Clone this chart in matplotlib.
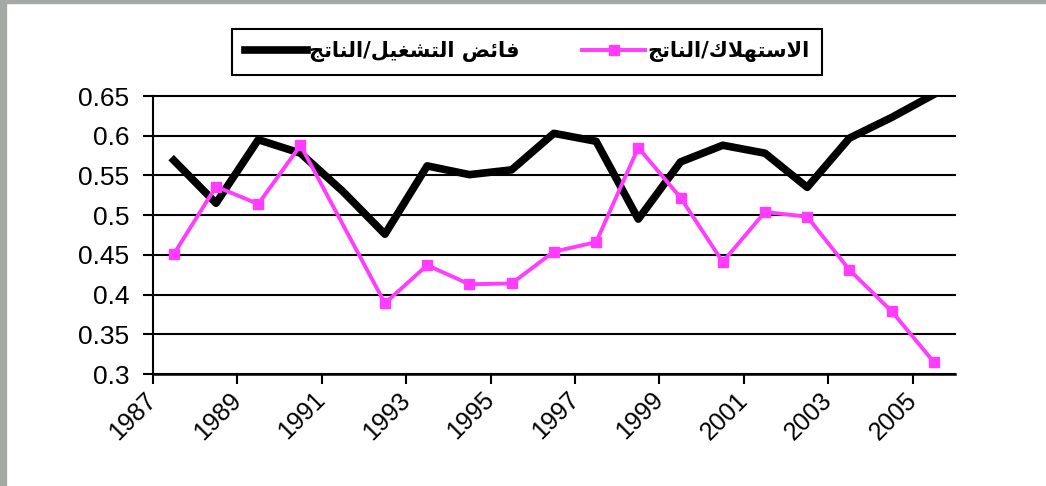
import matplotlib
import matplotlib.pyplot as plt
import numpy as np
from matplotlib.patches import Rectangle

matplotlib.use('Agg')

years = list(range(1987, 2006))
# فائض التشغيل/الناتج
surplus = [0.569, 0.515, 0.595, 0.578, 0.530, 0.476, 0.562, 0.551, 0.557, 0.603,
           0.593, 0.495, 0.567, 0.588, 0.578, 0.535, 0.597, 0.623, 0.652]
# الاستهلاك/الناتج (no marker for 1991)
consumption = [0.451, 0.536, 0.514, 0.588, np.nan, 0.389, 0.437, 0.413, 0.414, 0.454,
               0.466, 0.585, 0.522, 0.441, 0.504, 0.498, 0.431, 0.379, 0.315]
label_surplus = 'فائض التشغيل/الناتج'
label_consumption = 'الاستهلاك/الناتج'
tick_years = years[::2]
y_ticks = [0.3, 0.35, 0.4, 0.45, 0.5, 0.55, 0.6, 0.65]

# contextual forms: isolated, final, initial, medial
FORMS = {
    'ا': (0xFE8D, 0xFE8E, None, None),
    'ئ': (0xFE89, 0xFE8A, 0xFE8B, 0xFE8C),
    'ت': (0xFE95, 0xFE96, 0xFE97, 0xFE98),
    'ج': (0xFE9D, 0xFE9E, 0xFE9F, 0xFEA0),
    'س': (0xFEB1, 0xFEB2, 0xFEB3, 0xFEB4),
    'ش': (0xFEB5, 0xFEB6, 0xFEB7, 0xFEB8),
    'ض': (0xFEBD, 0xFEBE, 0xFEBF, 0xFEC0),
    'غ': (0xFECD, 0xFECE, 0xFECF, 0xFED0),
    'ف': (0xFED1, 0xFED2, 0xFED3, 0xFED4),
    'ك': (0xFED9, 0xFEDA, 0xFEDB, 0xFEDC),
    'ل': (0xFEDD, 0xFEDE, 0xFEDF, 0xFEE0),
    'ن': (0xFEE5, 0xFEE6, 0xFEE7, 0xFEE8),
    'ه': (0xFEE9, 0xFEEA, 0xFEEB, 0xFEEC),
    'ي': (0xFEF1, 0xFEF2, 0xFEF3, 0xFEF4),
    'لا': (0xFEFB, 0xFEFC, None, None),
}


def shape_arabic(text):
    units = []
    i = 0
    while i < len(text):
        if text[i:i + 2] == 'لا':
            units.append('لا')
            i += 2
        else:
            units.append(text[i])
            i += 1
    out = []
    for k, u in enumerate(units):
        if u not in FORMS:
            out.append(u)
            continue
        f = FORMS[u]
        prev = units[k - 1] if k > 0 else None
        nxt = units[k + 1] if k + 1 < len(units) else None
        join_prev = prev in FORMS and FORMS[prev][2] is not None
        join_next = f[2] is not None and nxt in FORMS
        if join_prev and join_next:
            c = f[3]
        elif join_prev:
            c = f[1]
        elif join_next:
            c = f[2]
        else:
            c = f[0]
        out.append(chr(c))
    return ''.join(reversed(out))


fig = plt.figure(figsize=(10.46, 4.86), dpi=100)
fig.patches.append(Rectangle((0, 0), 6 / 1046, 1, transform=fig.transFigure, color='#a5a9a5', zorder=0))
fig.patches.append(Rectangle((0, 1 - 3 / 486), 1, 3 / 486, transform=fig.transFigure, color='#a5a9a5', zorder=0))

ax = fig.add_axes([152.7 / 1046, 112 / 486, (955 - 152.7) / 1046, 278 / 486])

x = np.arange(len(years)) + 0.5
cons = np.array(consumption)
ok = ~np.isnan(cons)
ax.plot(x, surplus, color='black', lw=5.5, zorder=3,
        label=shape_arabic(label_surplus))
ax.plot(x[ok], cons[ok], color='#ff3cff', lw=2.8, marker='s', ms=7.5, zorder=4,
        label=shape_arabic(label_consumption))

ax.set_xlim(0, len(years))
ax.set_ylim(0.3, 0.65)
ax.set_yticks(y_ticks)
ax.set_yticklabels(['0.3', '0.35', '0.4', '0.45', '0.5', '0.55', '0.6', '0.65'])
ax.set_xticks(np.arange(0, len(years), 2))
ax.set_xticklabels([str(y) for y in tick_years], rotation=45, ha='right',
                   rotation_mode='anchor', va='center')

for v in y_ticks:
    ax.axhline(v, color='black', lw=1.5, zorder=1, clip_on=False)

for s in ['top', 'right']:
    ax.spines[s].set_visible(False)
ax.spines['left'].set_linewidth(1.5)
ax.spines['bottom'].set_linewidth(1.8)
ax.tick_params(axis='y', length=7, width=1.5, pad=10, labelsize=19)
ax.tick_params(axis='x', length=7, width=1.5, pad=9, labelsize=18)
for lab in ax.get_xticklabels() + ax.get_yticklabels():
    lab.set_family('Liberation Sans')

leg = fig.legend(loc='center', bbox_to_anchor=(527 / 1046, 1 - 52 / 486), ncol=2,
                 fancybox=False, edgecolor='black', framealpha=1, handlelength=3.0,
                 columnspacing=3.0, borderpad=0.6, borderaxespad=0, handletextpad=0.1,
                 prop={'family': 'DejaVu Sans', 'size': 15, 'weight': 'bold'})
leg.get_frame().set_linewidth(1.5)

fig.savefig('out.png', dpi=100)
